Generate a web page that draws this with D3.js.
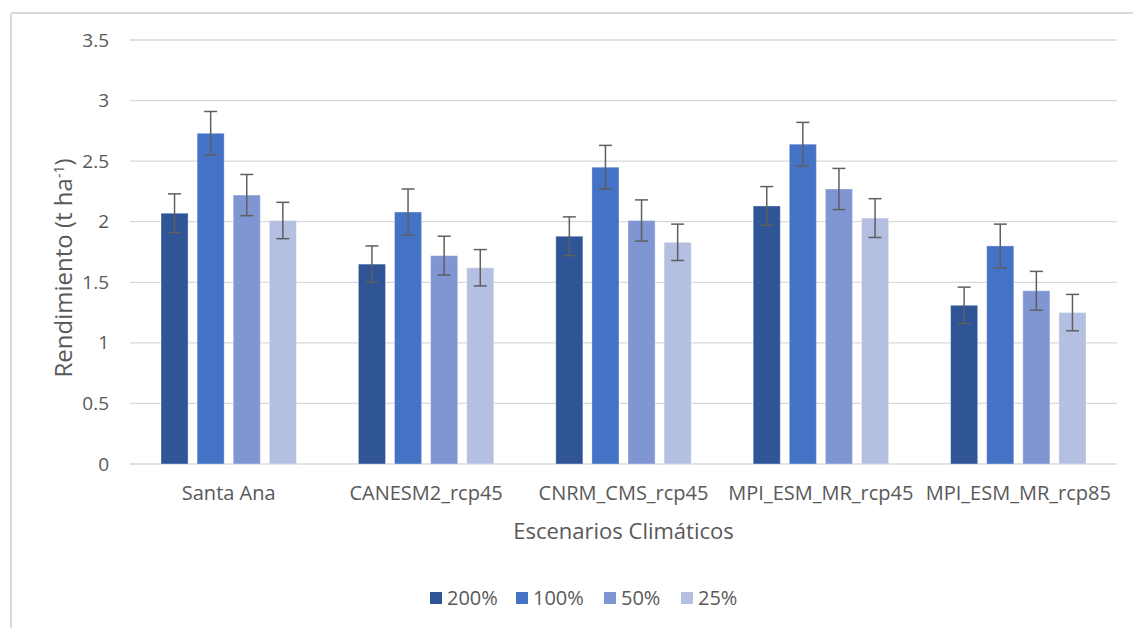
<!DOCTYPE html>
<html><head><meta charset="utf-8">
<script src="https://cdn.jsdelivr.net/npm/d3@7"></script>
<style>body{margin:0;background:#fff}svg{display:block}text{font-family:"Open Sans",sans-serif;fill:#595959}</style>
</head><body><svg id="c" width="1133" height="628"></svg>
<script>
const categories = ["Santa Ana","CANESM2_rcp45","CNRM_CMS_rcp45","MPI_ESM_MR_rcp45","MPI_ESM_MR_rcp85"];
const seriesNames = ["200%","100%","50%","25%"];
const colors = ["#2F5597","#4472C4","#7F96D2","#B4BFE1"];
const v200 = [2.07,1.65,1.88,2.13,1.31];
const v100 = [2.73,2.08,2.45,2.64,1.80];
const v50  = [2.22,1.72,2.01,2.27,1.43];
const v25  = [2.01,1.62,1.83,2.03,1.25];
const e200 = [0.16,0.15,0.16,0.16,0.15];
const e100 = [0.18,0.19,0.18,0.18,0.18];
const e50  = [0.17,0.16,0.17,0.17,0.16];
const e25  = [0.15,0.15,0.15,0.16,0.15];
const yTicks = [0,0.5,1,1.5,2,2.5,3,3.5];
const yTickLabels = ["0","0.5","1","1.5","2","2.5","3","3.5"];

const values = [v200,v100,v50,v25], errs=[e200,e100,e50,e25];
const svg = d3.select("#c");
const L=130,R=1117,T=40,B=464;

svg.append("line").attr("x1",11).attr("x2",1133).attr("y1",13).attr("y2",13).attr("stroke","#d9d9d9").attr("stroke-width",2);
svg.append("line").attr("x1",11).attr("x2",11).attr("y1",13).attr("y2",628).attr("stroke","#d9d9d9").attr("stroke-width",2);

const y = d3.scaleLinear().domain([0,3.5]).range([B,T]);
const x0 = d3.scaleBand().domain(categories).range([L,R]).paddingInner(0).paddingOuter(0);
const x1 = d3.scaleBand().domain(seriesNames).range([31,x0.bandwidth()-31]).paddingInner(0.25).paddingOuter(0);

svg.append("g").selectAll("line").data(yTicks).join("line")
  .attr("x1",L).attr("x2",R).attr("y1",d=>y(d)).attr("y2",d=>y(d))
  .attr("stroke","#d9d9d9").attr("stroke-width",1.3);

const yAxis = d3.axisLeft(y).tickValues(yTicks).tickFormat((d,i)=>yTickLabels[i]).tickSize(0).tickPadding(21);
const gy = svg.append("g").attr("transform",`translate(${L},0)`).call(yAxis);
gy.select(".domain").remove();
gy.selectAll("text").style("font-size","19px").style("font-family","Open Sans").attr("fill","#595959");

const groups = svg.append("g").selectAll("g").data(categories).join("g")
  .attr("transform",d=>`translate(${x0(d)},0)`);
seriesNames.forEach((s,si)=>{
  groups.append("rect")
    .attr("x",(d,i)=>x1(s))
    .attr("width",x1.bandwidth())
    .attr("y",(d,i)=>y(values[si][i]))
    .attr("height",(d,i)=>y(0)-y(values[si][i]))
    .attr("fill",colors[si])
    .attr("stroke","#ffffff").attr("stroke-opacity",0.35).attr("stroke-width",1);
});
seriesNames.forEach((s,si)=>{
  const cx = x1(s)+x1.bandwidth()/2;
  groups.each(function(d,i){
    const g=d3.select(this), v=values[si][i], e=errs[si][i];
    g.append("line").attr("x1",cx).attr("x2",cx).attr("y1",y(v+e)).attr("y2",y(v-e)).attr("stroke","#5f5f5f").attr("stroke-width",1.5);
    [v+e,v-e].forEach(t=>g.append("line").attr("x1",cx-6.5).attr("x2",cx+6.5).attr("y1",y(t)).attr("y2",y(t)).attr("stroke","#5f5f5f").attr("stroke-width",1.5));
  });
});

const xAxis = d3.axisBottom(x0).tickSize(0).tickPadding(22);
const gx = svg.append("g").attr("transform",`translate(0,${B})`).call(xAxis);
gx.select(".domain").remove();
gx.selectAll("text").style("font-size","20px").style("font-family","Open Sans").attr("fill","#595959");

svg.append("text").attr("x",(L+R)/2).attr("y",539).attr("text-anchor","middle").style("font-size","22px").text("Escenarios Climáticos");
const yt = svg.append("text").attr("transform","translate(72,268) rotate(-90)").attr("text-anchor","middle").style("font-size","24px");
yt.append("tspan").text("Rendimiento (t ha");
yt.append("tspan").attr("dy",-8).style("font-size","14px").text("-1");
yt.append("tspan").attr("dy",8).text(")");

const legX=[430,516,604,681];
const leg = svg.append("g").selectAll("g").data(seriesNames).join("g").attr("transform",(d,i)=>`translate(${legX[i]},592)`);
leg.append("rect").attr("width",12).attr("height",12).attr("fill",(d,i)=>colors[i]);
leg.append("text").attr("x",17).attr("y",13).style("font-size","20px").text(d=>d);
</script></body></html>
